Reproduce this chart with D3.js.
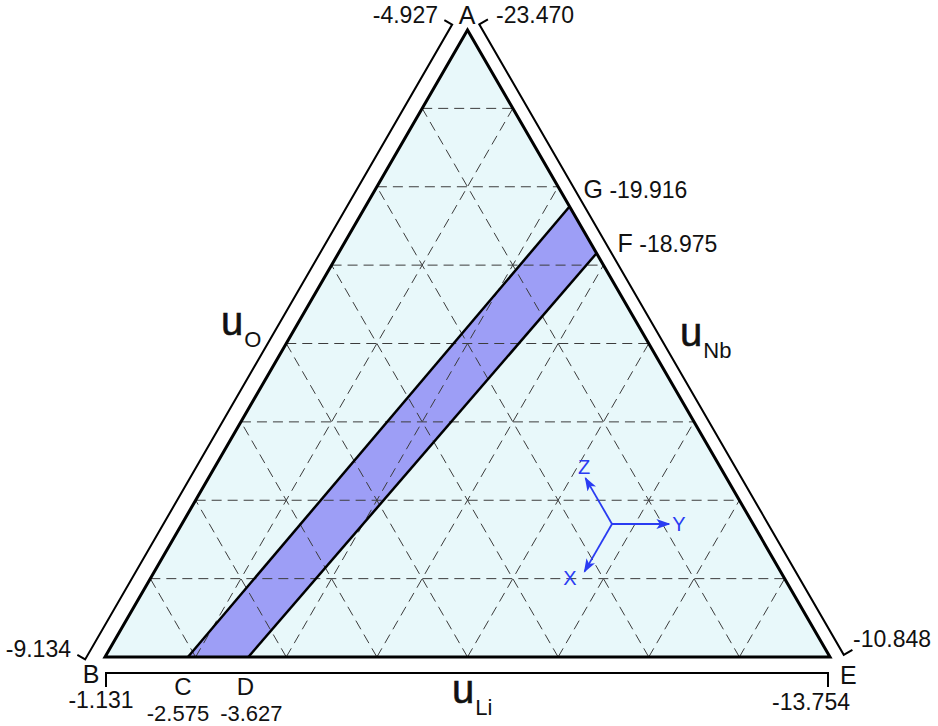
<!DOCTYPE html>
<meta charset="utf-8">
<script src="https://d3js.org/d3.v7.min.js"></script>
<style>
  body { margin: 0; background: #fff; }
  text { font-family: "Liberation Sans", Arial, sans-serif; fill: #111; }
</style>
<div id="chart"></div>
<script>
// chemical potential ranges on each side of the triangle
var liRange = [-1.131, -13.754];   // B -> E
var nbRange = [-23.470, -10.848];  // A -> E
var oRange = [-4.927, -9.134];     // A -> B
// stable band: C, D on the u_Li side, G, F on the u_Nb side
var bandLi = [-2.575, -3.627];
var bandNb = [-19.916, -18.975];
var bandLiNames = ["C", "D"];
var bandNbNames = ["G", "F"];
var gridSteps = d3.range(1, 8);    // 8 divisions

var width = 938, height = 726;

var svg = d3.select("#chart").append("svg")
    .attr("width", width)
    .attr("height", height);

// triangle corners
var B = [105, 657], E = [830, 657], A = [467.5, 30];

function lerp(p, q, t) { return [p[0] + (q[0] - p[0]) * t, p[1] + (q[1] - p[1]) * t]; }

var liScale = d3.scaleLinear().domain(liRange).range([0, 1]);
var nbScale = d3.scaleLinear().domain(nbRange).range([0, 1]);

// triangle background
svg.append("path")
    .attr("d", "M" + A + "L" + B + "L" + E + "Z")
    .attr("fill", "#e8f8fa");

// band
var C = lerp(B, E, liScale(bandLi[0])),
    D = lerp(B, E, liScale(bandLi[1])),
    G = lerp(A, E, nbScale(bandNb[0])),
    F = lerp(A, E, nbScale(bandNb[1]));

svg.append("path")
    .attr("d", "M" + C + "L" + D + "L" + F + "L" + G + "Z")
    .attr("fill", "#9d9ef6");

// dashed grid
var grid = svg.append("g")
    .attr("stroke", "#3c3c3c")
    .attr("stroke-width", 1)
    .attr("stroke-dasharray", "10,6");

gridSteps.forEach(function(k) {
    var t = k / 8;
    var l = lerp(B, A, t), r = lerp(E, A, t);
    grid.append("line").attr("x1", l[0]).attr("y1", l[1]).attr("x2", r[0]).attr("y2", r[1]);
    var b1 = lerp(B, E, t), rr = lerp(E, A, 1 - t);
    grid.append("line").attr("x1", b1[0]).attr("y1", b1[1]).attr("x2", rr[0]).attr("y2", rr[1]);
    var ll = lerp(B, A, t);
    grid.append("line").attr("x1", b1[0]).attr("y1", b1[1]).attr("x2", ll[0]).attr("y2", ll[1]);
});

// band edges
svg.append("line").attr("x1", C[0]).attr("y1", C[1]).attr("x2", G[0]).attr("y2", G[1])
    .attr("stroke", "#000").attr("stroke-width", 2.5);
svg.append("line").attr("x1", D[0]).attr("y1", D[1]).attr("x2", F[0]).attr("y2", F[1])
    .attr("stroke", "#000").attr("stroke-width", 2.5);

// triangle outline
svg.append("path")
    .attr("d", "M" + A + "L" + B + "L" + E + "Z")
    .attr("fill", "none")
    .attr("stroke", "#000")
    .attr("stroke-width", 3)
    .attr("stroke-linejoin", "miter");

// side brackets
function bracket(p, q, n, off, ext0, ext1, tick) {
    var len = Math.hypot(q[0] - p[0], q[1] - p[1]);
    var u = [(q[0] - p[0]) / len, (q[1] - p[1]) / len];
    var s = [p[0] + n[0] * off - u[0] * ext0, p[1] + n[1] * off - u[1] * ext0];
    var e = [q[0] + n[0] * off - u[0] * ext1, q[1] + n[1] * off - u[1] * ext1];
    var pts = [
        [s[0] + n[0] * tick, s[1] + n[1] * tick], s, e,
        [e[0] + n[0] * tick, e[1] + n[1] * tick]
    ];
    svg.append("path")
        .attr("d", d3.line()(pts))
        .attr("fill", "none")
        .attr("stroke", "#000")
        .attr("stroke-width", 2);
}
var c30 = Math.cos(Math.PI / 6), s30 = 0.5;
bracket(B, A, [-c30, -s30], 16, 12, 3, 9);
bracket(E, A, [c30, -s30], 13, 5, 1, 10);
bracket(B, E, [0, 1], 16, -1, 2, 14);

// labels
function label(txt, x, y, anchor, size) {
    svg.append("text")
        .attr("x", x).attr("y", y)
        .attr("text-anchor", anchor || "start")
        .attr("font-size", (size || 23) + "px")
        .text(txt);
}
function f3(v) { return v.toFixed(3); }

label("A", 467, 24, "middle", 25);
label(f3(oRange[0]), 438, 23, "end");
label(f3(nbRange[0]), 496, 23, "start");

label("B", 91, 683, "middle", 25);
label(f3(oRange[1]), 71, 657, "end");
label(f3(liRange[0]), 101, 708, "middle");

label("E", 840, 684, "start", 25);
label(f3(nbRange[1]), 853, 647, "start");
label(f3(liRange[1]), 811, 710, "middle");

label(bandLiNames[0], C[0] - 5, 695, "middle", 24);
label(f3(bandLi[0]), C[0] - 10, 721, "middle", 22);
label(bandLiNames[1], D[0] - 3, 695, "middle", 24);
label(f3(bandLi[1]), D[0] + 3, 721, "middle", 22);

svg.append("text").attr("x", G[0] + 14).attr("y", 198).attr("font-size", "23px")
    .call(function(t) {
        t.append("tspan").attr("font-size", "25px").text(bandNbNames[0]);
        t.append("tspan").text(" " + f3(bandNb[0]));
    });
svg.append("text").attr("x", F[0] + 21).attr("y", 252).attr("font-size", "23px")
    .call(function(t) {
        t.append("tspan").attr("font-size", "25px").text(bandNbNames[1]);
        t.append("tspan").text(" " + f3(bandNb[1]));
    });

// axis titles
function title(sub, x, y) {
    var t = svg.append("text").attr("x", x).attr("y", y);
    t.append("tspan").attr("font-size", "40px").attr("stroke", "#111").attr("stroke-width", 0.6).text("u");
    t.append("tspan").attr("font-size", "22px").attr("dx", 1).attr("dy", 12).text(sub);
}
title("O", 221, 335);
title("Nb", 680, 346);
title("Li", 452, 703);

// coordinate icon
var blue = "#2a3cf2";
svg.append("defs").append("marker")
    .attr("id", "arrowBig")
    .attr("viewBox", "0 0 10 10")
    .attr("refX", 9).attr("refY", 5)
    .attr("markerWidth", 14).attr("markerHeight", 10)
    .attr("markerUnits", "userSpaceOnUse")
    .attr("orient", "auto")
    .attr("preserveAspectRatio", "none")
    .append("path")
    .attr("d", "M0,0L10,5L0,10L2.5,5Z")
    .attr("fill", blue);

var origin = [612, 524];
var axes = [
    { name: "Y", ang: 0, len: 57, lx: 679, ly: 531 },
    { name: "Z", ang: -120, len: 53, lx: 584, ly: 474 },
    { name: "X", ang: 120, len: 55, lx: 570, ly: 585 }
];
axes.forEach(function(a) {
    var r = a.ang * Math.PI / 180;
    svg.append("line")
        .attr("x1", origin[0]).attr("y1", origin[1])
        .attr("x2", origin[0] + Math.cos(r) * a.len)
        .attr("y2", origin[1] + Math.sin(r) * a.len)
        .attr("stroke", blue)
        .attr("stroke-width", 1.8)
        .attr("marker-end", "url(#arrowBig)");
    svg.append("text")
        .attr("x", a.lx).attr("y", a.ly)
        .attr("text-anchor", "middle")
        .attr("font-size", "20px")
        .style("fill", blue)
        .text(a.name);
});
</script>
